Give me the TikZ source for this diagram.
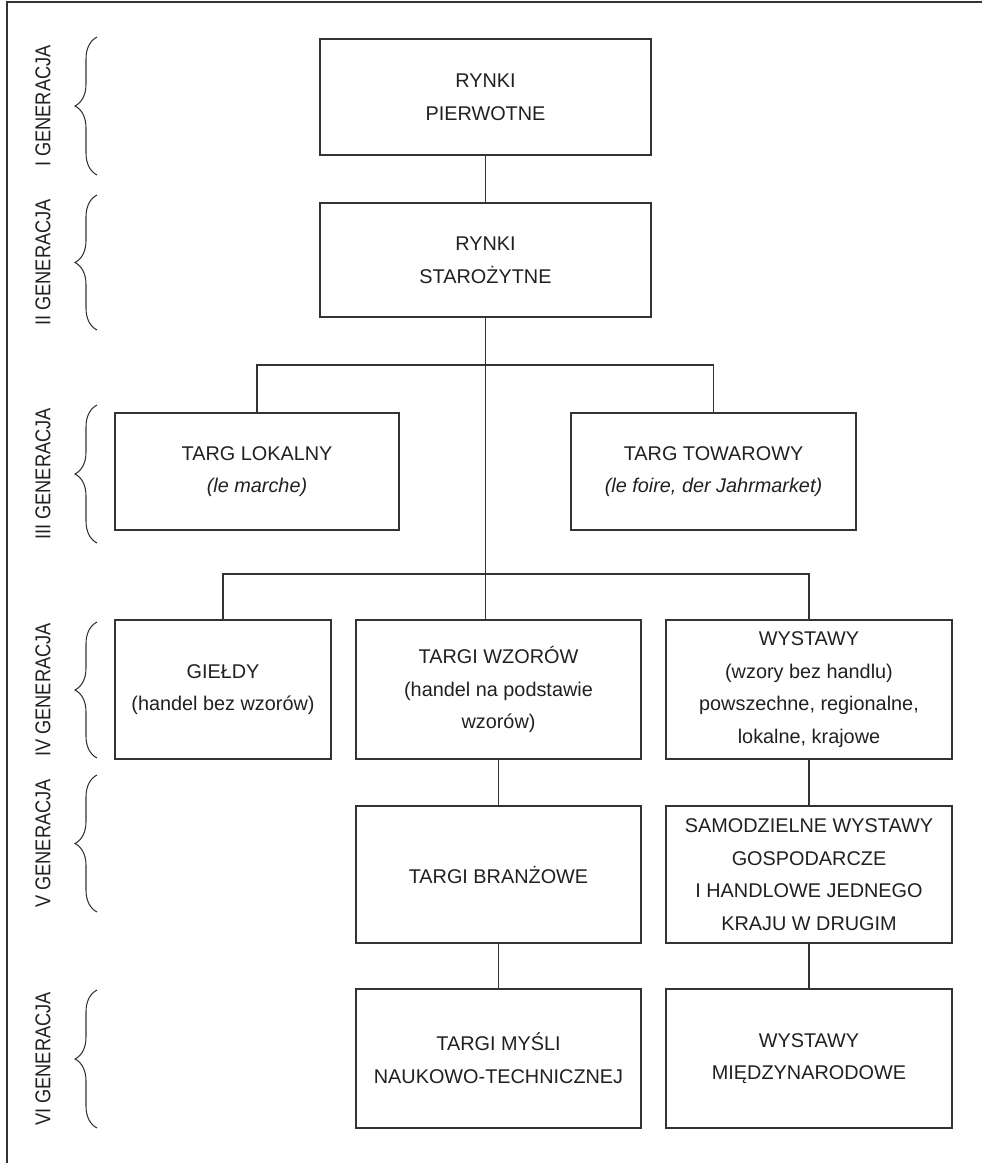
\documentclass[tikz,border=0pt]{standalone}
\usepackage{fontspec}
\setmainfont{Liberation Sans}
\newfontfamily\genfont{Liberation Sans}[FakeStretch=0.85]
\usepackage{tikz}
\usetikzlibrary{calc,decorations.pathreplacing}
\definecolor{ink}{HTML}{231F20}
\definecolor{rule}{HTML}{333333}

\begin{document}
\begin{tikzpicture}[
  gen/.style={draw=rule,line width=0.95pt,inner sep=0pt,align=center,text=ink,
    font=\fontsize{11.3}{18.6}\selectfont},
  link/.style={draw=rule,line width=0.9pt},
  gbrace/.style={draw=rule,line width=0.6pt,decoration={brace,amplitude=0.44cm},decorate},
  glabel/.style={rotate=90,text=ink,font=\genfont\fontsize{12.2}{14}\selectfont}
]
\useasboundingbox (0,0) rectangle (19.64,-23.26);
% Frame
\draw[draw=rule,line width=1.3pt] (19.64,-0.04) -- (0.14,-0.04) -- (0.14,-23.26);
% Generations
\foreach \lab/\yt/\yb in {I/0.74/3.50,II/3.90/6.60,III/8.10/10.86,IV/12.44/15.16,V/15.50/18.24,VI/19.80/22.56}{
  \draw[gbrace] (1.94,-\yb) -- (1.94,-\yt);
  \node[glabel] (g\lab) at (0.86,{-(\yt+\yb)/2}) {\lab{} GENERACJA};
}
% Markets
\node[gen,minimum width=6.62cm,minimum height=2.32cm] (pierw) at (9.71,-1.94) {RYNKI\\PIERWOTNE};
\node[gen,minimum width=6.62cm,minimum height=2.28cm] (staro) at (9.71,-5.20) {RYNKI\\STAROŻYTNE};
\node[gen,minimum width=5.68cm,minimum height=2.34cm] (lokal) at (5.14,-9.43) {TARG LOKALNY\\\textit{(le marche)}};
\node[gen,minimum width=5.70cm,minimum height=2.34cm] (towar) at (14.27,-9.43) {TARG TOWAROWY\\\textit{(le foire, der Jahrmarket)}};
% Fairs and exhibitions
\node[gen,minimum width=4.32cm,minimum height=2.78cm] (gield) at (4.46,-13.79) {GIEŁDY\\(handel bez wzorów)};
\node[gen,minimum width=5.70cm,minimum height=2.78cm] (wzory) at (9.97,-13.79) {TARGI WZORÓW\\(handel na podstawie\\wzorów)};
\node[gen,minimum width=5.72cm,minimum height=2.78cm] (wyst) at (16.18,-13.79) {WYSTAWY\\(wzory bez handlu)\\powszechne, regionalne,\\lokalne, krajowe};
\node[gen,minimum width=5.70cm,minimum height=2.74cm] (branz) at (9.97,-17.49) {TARGI BRANŻOWE};
\node[gen,minimum width=5.72cm,minimum height=2.74cm] (samo) at (16.18,-17.49) {SAMODZIELNE WYSTAWY\\GOSPODARCZE\\I HANDLOWE JEDNEGO\\KRAJU W DRUGIM};
\node[gen,minimum width=5.70cm,minimum height=2.78cm] (mysli) at (9.97,-21.17) {TARGI MYŚLI\\NAUKOWO-TECHNICZNEJ};
\node[gen,minimum width=5.72cm,minimum height=2.78cm] (miedz) at (16.18,-21.17) {WYSTAWY\\MIĘDZYNARODOWE};
% Connections
\coordinate (j3) at (9.70,-7.30);
\coordinate (j4) at (9.70,-11.48);
\draw[link] (pierw) -- (staro);
\draw[link] (staro.south) -- (staro.south |- wzory.north);
\draw[link] (lokal.north) |- (j3) -| (towar.north);
\draw[link] (gield.north) |- (j4) -| (wyst.north);
\draw[link] (wzory) -- (branz);
\draw[link] (branz) -- (mysli);
\draw[link] (wyst) -- (samo);
\draw[link] (samo) -- (miedz);
\end{tikzpicture}
\end{document}
